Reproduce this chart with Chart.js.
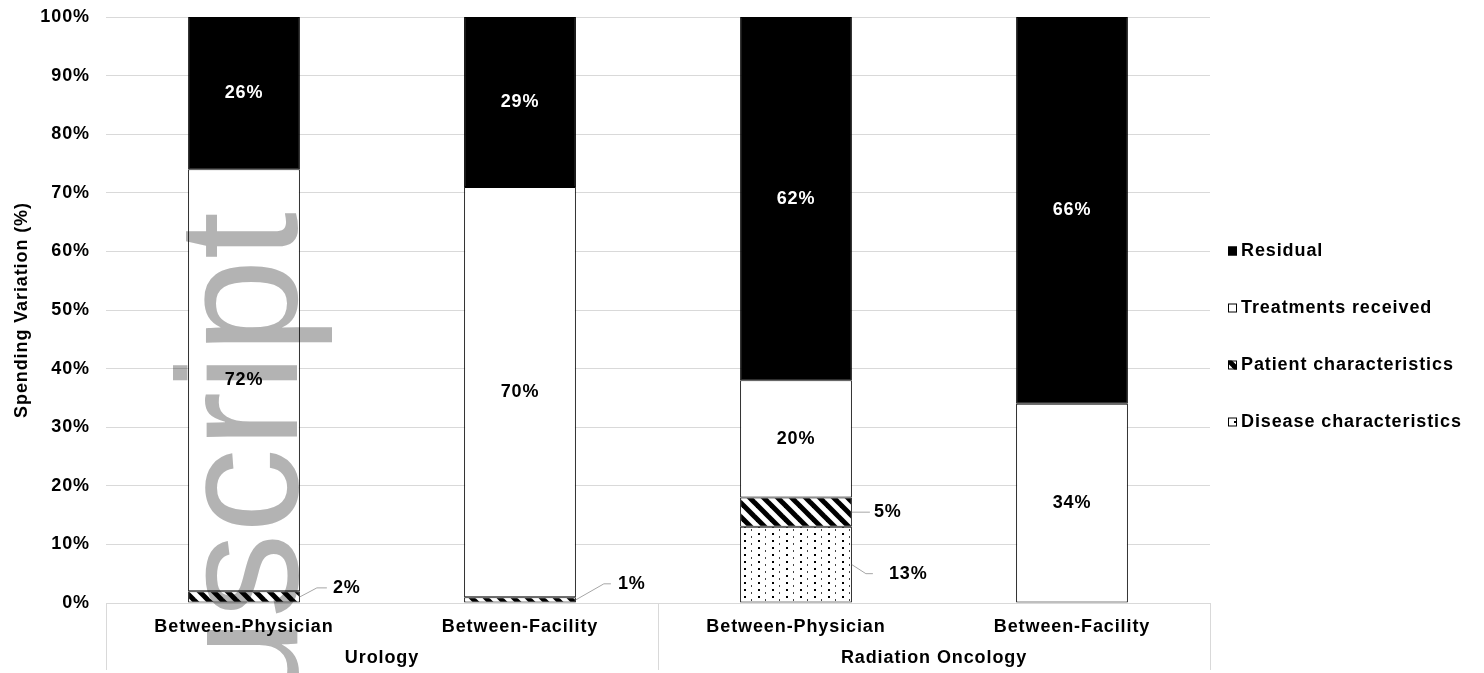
<!DOCTYPE html>
<html>
<head>
<meta charset="utf-8">
<title>Spending Variation</title>
<script src="https://cdn.jsdelivr.net/npm/chart.js@4.4.1/dist/chart.umd.min.js"></script>
<style>
  html, body { margin: 0; padding: 0; background: #ffffff; }
  #wrap { width: 1484px; height: 673px; position: relative; }
</style>
</head>
<body>
<div id="wrap"><canvas id="chart" width="1484" height="673"></canvas></div>
<script>
// ---- data ----
const categories = ['Between-Physician', 'Between-Facility', 'Between-Physician', 'Between-Facility'];
const groups = ['Urology', 'Radiation Oncology'];
const groupSpans = [[0, 1], [2, 3]];
const diseaseCharacteristics = [0, 0, 13, 0];
const patientCharacteristics = [2, 1, 5, 0];
const treatmentsReceived = [72, 70, 20, 34];
const residual = [26, 29, 62, 66];
const seriesNames = ['Disease characteristics', 'Patient characteristics', 'Treatments received', 'Residual'];
const yTickValues = [0, 10, 20, 30, 40, 50, 60, 70, 80, 90, 100];

// ---- look ----
const FONT_FAMILY = '"Liberation Sans", Arial, Helvetica, sans-serif';
const FONT_SIZE = 18;
const LETTER_SPACING = '0.9px';
const GRID = '#d9d9d9';

function makeStripes() {
  const s = 14;
  const c = document.createElement('canvas');
  c.width = s; c.height = s;
  const g = c.getContext('2d');
  g.fillStyle = '#ffffff';
  g.fillRect(0, 0, s, s);
  g.strokeStyle = '#000000';
  g.lineWidth = 5;
  for (const o of [-s, 0, s]) {
    g.beginPath();
    g.moveTo(o - 2, -2);
    g.lineTo(o + s + 2, s + 2);
    g.stroke();
  }
  return c;
}

function makeDots() {
  const c = document.createElement('canvas');
  c.width = 14; c.height = 14;
  const g = c.getContext('2d');
  g.fillStyle = '#ffffff';
  g.fillRect(0, 0, 14, 14);
  g.fillStyle = '#000000';
  g.fillRect(2, 1, 2, 2);
  g.fillRect(2, 8, 2, 2);
  g.fillStyle = '#444444';
  g.fillRect(9, 4, 1, 2);
  g.fillRect(9, 11, 1, 2);
  return c;
}

const canvas = document.getElementById('chart');
const ctx = canvas.getContext('2d');
const stripePattern = ctx.createPattern(makeStripes(), 'repeat');
const dotPattern = ctx.createPattern(makeDots(), 'repeat');

const fills = [dotPattern, stripePattern, '#ffffff', '#000000'];
const labelColors = ['#000000', '#000000', '#000000', '#ffffff'];
const seriesValues = [diseaseCharacteristics, patientCharacteristics, treatmentsReceived, residual];
const boldFont = () => 'bold ' + FONT_SIZE + 'px ' + FONT_FAMILY;

// keep text tracking consistent for every canvas text call
const spacingPlugin = {
  id: 'spacing',
  beforeUpdate(chart) { chart.ctx.letterSpacing = LETTER_SPACING; },
  beforeDraw(chart) { chart.ctx.letterSpacing = LETTER_SPACING; }
};

// value labels: centred inside large segments, with leader lines for thin ones
const valueLabelPlugin = {
  id: 'valueLabels',
  afterDatasetsDraw(chart, args, opts) {
    const c = chart.ctx;
    c.save();
    c.letterSpacing = LETTER_SPACING;
    c.font = boldFont();
    chart.data.datasets.forEach((ds, di) => {
      const meta = chart.getDatasetMeta(di);
      meta.data.forEach((bar, i) => {
        const v = ds.data[i];
        if (!v) return;
        const p = bar.getProps(['x', 'y', 'base', 'width'], true);
        const cy = (p.y + p.base) / 2;
        const text = v + '%';
        const callout = opts.callouts[di] && opts.callouts[di][i];
        if (callout) {
          const ax = p.x + p.width / 2;
          const ex = ax + callout.elbow[0], ey = cy + callout.elbow[1];
          const tx = ax + callout.end[0];
          c.strokeStyle = '#a6a6a6';
          c.lineWidth = 1;
          c.beginPath();
          c.moveTo(ax, cy);
          c.lineTo(ex, ey);
          c.lineTo(tx, ey);
          c.stroke();
          c.fillStyle = '#000000';
          c.textAlign = 'left';
          c.textBaseline = 'middle';
          c.fillText(text, tx + callout.gap, ey);
        } else {
          c.fillStyle = labelColors[di];
          c.textAlign = 'center';
          c.textBaseline = 'middle';
          c.fillText(text, p.x, cy);
        }
      });
    });
    c.restore();
  }
};

// second tier of the category axis: group names and separators
const groupAxisPlugin = {
  id: 'groupAxis',
  afterDraw(chart) {
    const c = chart.ctx;
    const xs = chart.scales.x;
    const area = chart.chartArea;
    const half = (xs.getPixelForValue(1) - xs.getPixelForValue(0)) / 2;
    c.save();
    c.letterSpacing = LETTER_SPACING;
    c.strokeStyle = GRID;
    c.lineWidth = 1;
    const edges = new Set();
    groupSpans.forEach(([a, b]) => {
      edges.add(Math.round(xs.getPixelForValue(a) - half) + 0.5);
      edges.add(Math.round(xs.getPixelForValue(b) + half) + 0.5);
    });
    edges.forEach(x => {
      c.beginPath();
      c.moveTo(x, area.bottom);
      c.lineTo(x, 670);
      c.stroke();
    });
    c.font = boldFont();
    c.fillStyle = '#000000';
    c.textAlign = 'center';
    c.textBaseline = 'middle';
    groups.forEach((g, gi) => {
      const [a, b] = groupSpans[gi];
      const cx = (xs.getPixelForValue(a) + xs.getPixelForValue(b)) / 2;
      c.fillText(g, cx, 658);
    });
    c.restore();
  }
};

// legend on the right, listed top to bottom in reverse stacking order
const sideLegendPlugin = {
  id: 'sideLegend',
  afterDraw(chart) {
    const c = chart.ctx;
    c.save();
    c.letterSpacing = LETTER_SPACING;
    c.font = boldFont();
    c.textAlign = 'left';
    c.textBaseline = 'middle';
    const order = [3, 2, 1, 0];
    order.forEach((di, k) => {
      const y = 251 + k * 57;
      const bx = 1228, by = y - 4.5, bs = 9;
      c.fillStyle = fills[di];
      c.fillRect(bx, by, bs, bs);
      c.strokeStyle = '#000000';
      c.lineWidth = 1;
      c.strokeRect(bx + 0.5, by + 0.5, bs - 1, bs - 1);
      c.fillStyle = '#000000';
      c.fillText(seriesNames[di], 1241, y);
    });
    c.restore();
  }
};

// faint "Author Manuscript" stamp running up the left side
const stampPlugin = {
  id: 'stamp',
  afterDraw(chart) {
    const c = chart.ctx;
    c.save();
    c.letterSpacing = '0px';
    c.globalCompositeOperation = 'multiply';
    c.translate(297, 212);
    c.rotate(-Math.PI / 2);
    c.font = '170px ' + FONT_FAMILY;
    c.fillStyle = '#b3b3b3';
    c.textAlign = 'right';
    c.textBaseline = 'alphabetic';
    c.fillText('Author Manuscript', 0, 0);
    c.restore();
  }
};

new Chart(canvas, {
  type: 'bar',
  data: {
    labels: categories,
    datasets: seriesNames.map((name, di) => ({
      label: name,
      data: seriesValues[di],
      backgroundColor: fills[di],
      borderColor: '#000000',
      borderWidth: 1,
      borderSkipped: false,
      barPercentage: 0.405,
      categoryPercentage: 1.0
    }))
  },
  options: {
    responsive: false,
    animation: false,
    layout: { padding: { top: 17, right: 274, bottom: 0, left: 0 } },
    plugins: {
      legend: { display: false },
      tooltip: { enabled: false },
      valueLabels: {
        callouts: {
          1: {
            0: { elbow: [17, -9], end: [27, -9], gap: 6 },
            1: { elbow: [28, -16], end: [35, -16], gap: 7 },
            2: { elbow: [18, 0], end: [18, 0], gap: 4 }
          },
          0: {
            2: { elbow: [14, 9], end: [21, 9], gap: 16 }
          }
        }
      }
    },
    scales: {
      x: {
        stacked: true,
        grid: { display: false },
        border: { display: false },
        ticks: {
          color: '#000000',
          font: { family: FONT_FAMILY, size: FONT_SIZE, weight: 'bold' },
          padding: 5,
          maxRotation: 0,
          autoSkip: false
        },
        afterFit(scale) { scale.height = 70; }
      },
      y: {
        stacked: true,
        min: 0,
        max: 100,
        afterBuildTicks(scale) { scale.ticks = yTickValues.map(v => ({ value: v })); },
        grid: { color: GRID, lineWidth: 1, drawTicks: false },
        border: { display: false },
        ticks: {
          color: '#000000',
          font: { family: FONT_FAMILY, size: FONT_SIZE, weight: 'bold' },
          padding: 16,
          callback: v => v + '%'
        },
        title: {
          display: true,
          text: 'Spending Variation (%)',
          color: '#000000',
          font: { family: FONT_FAMILY, size: FONT_SIZE, weight: 'bold' },
          padding: { top: 11, bottom: 0 }
        },
        afterFit(scale) {
          scale.width = 106;
          scale.paddingTop = 0;
          scale.paddingBottom = 0;
        }
      }
    }
  },
  plugins: [spacingPlugin, valueLabelPlugin, groupAxisPlugin, sideLegendPlugin, stampPlugin]
});
</script>
</body>
</html>
